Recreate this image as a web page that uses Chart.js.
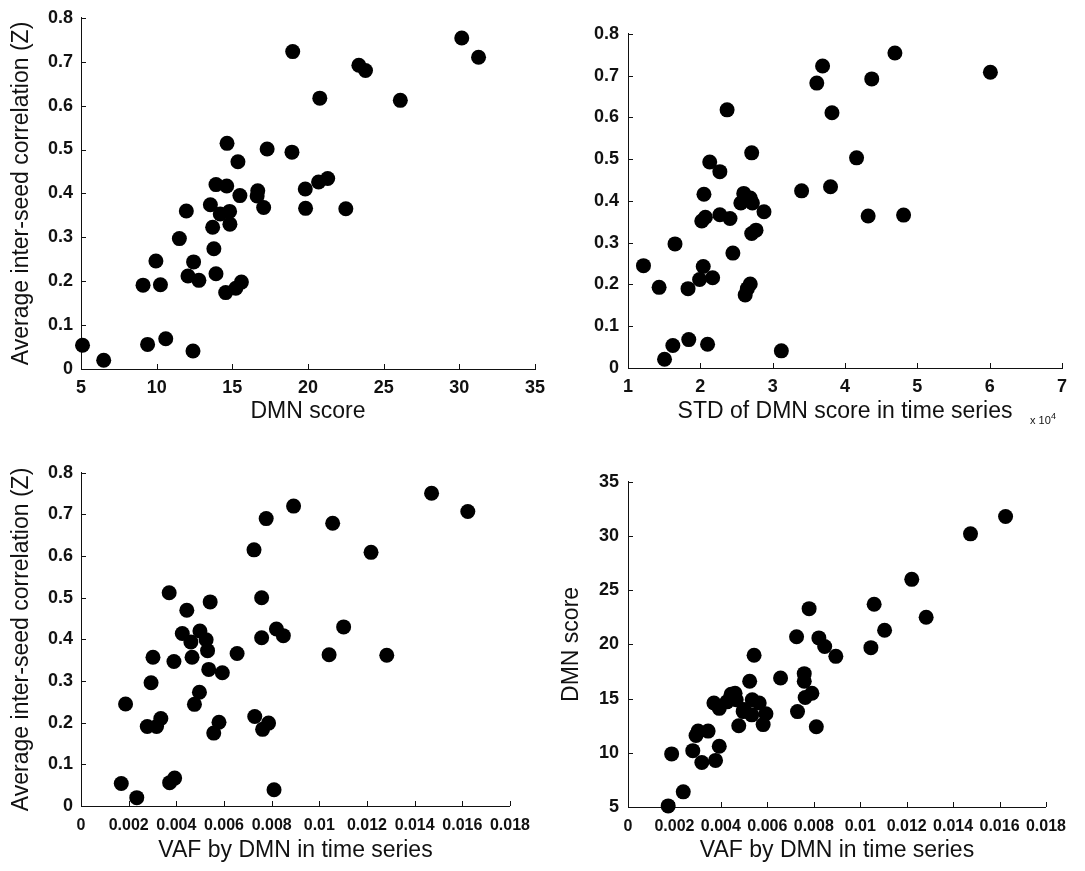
<!DOCTYPE html>
<html>
<head>
<meta charset="utf-8">
<script src="https://cdn.jsdelivr.net/npm/chart.js@4/dist/chart.umd.min.js"></script>
<style>
html, body { margin: 0; padding: 0; background: #fff; overflow: hidden; width: 1085px; height: 871px; }
.panel { position: absolute; }
</style>
</head>
<body>
<div class="panel" id="w1"><canvas id="c1"></canvas></div>
<div class="panel" id="w2"><canvas id="c2"></canvas></div>
<div class="panel" id="w3"><canvas id="c3"></canvas></div>
<div class="panel" id="w4"><canvas id="c4"></canvas></div>
<script>
// ---------- tick values / labels ----------
const corrTickValues = [0, 0.1, 0.2, 0.3, 0.4, 0.5, 0.6, 0.7, 0.8];
const corrTickLabels = ['0', '0.1', '0.2', '0.3', '0.4', '0.5', '0.6', '0.7', '0.8'];
const dmnTickValues = [5, 10, 15, 20, 25, 30, 35];
const dmnTickLabels = ['5', '10', '15', '20', '25', '30', '35'];
const stdTickValues = [1, 2, 3, 4, 5, 6, 7];
const stdTickLabels = ['1', '2', '3', '4', '5', '6', '7'];
const vafTickValues = [0, 0.002, 0.004, 0.006, 0.008, 0.01, 0.012, 0.014, 0.016, 0.018];
const vafTickLabels = ['0', '0.002', '0.004', '0.006', '0.008', '0.01', '0.012', '0.014', '0.016', '0.018'];
const stdScaleBase = 'x 10';
const stdScaleExp = '4';

// ---------- axis titles ----------
const corrTitle = 'Average inter-seed correlation (Z)';
const dmnTitle = 'DMN score';
const stdTitle = 'STD of DMN score in time series';
const vafTitle = 'VAF by DMN in time series';

// ---------- panel 1: DMN score vs correlation ----------
const p1DmnScore = [5.1, 6.5, 9.4, 10.6, 12.4, 9.1, 10.25, 9.95, 11.5, 11.96, 12.07, 12.44, 12.79, 13.55, 13.7, 13.78, 13.92, 13.92, 14.2, 14.56, 14.63, 14.65, 14.82, 14.84, 15.23, 15.6, 15.37, 15.5, 16.68, 16.64, 17.07, 17.3, 18.94, 18.99, 19.82, 19.84, 20.7, 21.3, 20.78, 22.5, 23.36, 23.8, 26.1, 30.16, 31.27];
const p1CorrZ = [0.054, 0.020, 0.056, 0.069, 0.041, 0.191, 0.192, 0.246, 0.297, 0.360, 0.212, 0.244, 0.202, 0.374, 0.323, 0.274, 0.217, 0.420, 0.353, 0.174, 0.417, 0.514, 0.359, 0.330, 0.184, 0.198, 0.472, 0.395, 0.406, 0.394, 0.368, 0.501, 0.494, 0.723, 0.410, 0.366, 0.426, 0.434, 0.617, 0.365, 0.692, 0.680, 0.612, 0.754, 0.710];

// ---------- panel 2: STD of DMN score (x 10^4) vs correlation ----------
const p2StdDmn = [1.214, 1.43, 1.505, 1.62, 1.65, 1.83, 1.84, 1.99, 2.04, 2.17, 2.10, 2.05, 2.02, 2.07, 2.13, 2.27, 2.27, 2.41, 2.37, 2.45, 2.56, 2.60, 2.62, 2.65, 2.69, 2.69, 2.70, 2.71, 2.71, 2.77, 2.88, 3.12, 3.40, 3.61, 3.69, 3.80, 3.82, 4.16, 4.32, 4.37, 4.69, 4.81, 6.01, 2.63, 2.72];
const p2CorrZ = [0.245, 0.193, 0.021, 0.054, 0.297, 0.190, 0.068, 0.212, 0.243, 0.216, 0.057, 0.416, 0.352, 0.361, 0.493, 0.470, 0.367, 0.358, 0.618, 0.275, 0.395, 0.418, 0.175, 0.190, 0.201, 0.407, 0.399, 0.515, 0.322, 0.330, 0.374, 0.041, 0.424, 0.682, 0.723, 0.434, 0.611, 0.503, 0.364, 0.692, 0.754, 0.366, 0.708, 0.405, 0.395];

// ---------- panel 3: VAF vs correlation ----------
const p3Vaf = [0.00169, 0.00234, 0.00372, 0.00393, 0.0081, 0.00187, 0.00278, 0.00317, 0.00335, 0.00294, 0.00302, 0.0039, 0.0037, 0.00425, 0.00444, 0.00461, 0.00466, 0.00476, 0.00497, 0.00499, 0.00525, 0.00531, 0.00536, 0.00542, 0.00557, 0.00579, 0.00593, 0.00655, 0.00726, 0.00729, 0.00758, 0.00758, 0.00762, 0.00787, 0.00777, 0.0082, 0.00849, 0.00892, 0.01056, 0.01041, 0.01102, 0.01217, 0.01283, 0.01471, 0.01623];
const p3CorrZ = [0.054, 0.020, 0.056, 0.067, 0.039, 0.245, 0.191, 0.191, 0.210, 0.296, 0.357, 0.347, 0.512, 0.414, 0.470, 0.394, 0.357, 0.244, 0.273, 0.420, 0.399, 0.373, 0.328, 0.490, 0.175, 0.201, 0.320, 0.366, 0.615, 0.215, 0.500, 0.404, 0.184, 0.199, 0.690, 0.425, 0.409, 0.720, 0.679, 0.363, 0.430, 0.609, 0.362, 0.751, 0.707];

// ---------- panel 4: VAF vs DMN score ----------
const p4Vaf = [0.00173, 0.00238, 0.00377, 0.00393, 0.00811, 0.00318, 0.00279, 0.00188, 0.00293, 0.00302, 0.00345, 0.00477, 0.00582, 0.00533, 0.00594, 0.00496, 0.0073, 0.00499, 0.00393, 0.00565, 0.00426, 0.0037, 0.00466, 0.00535, 0.00763, 0.00792, 0.00444, 0.00461, 0.00759, 0.00524, 0.00657, 0.00759, 0.00543, 0.00895, 0.00847, 0.01046, 0.00822, 0.01105, 0.00726, 0.01284, 0.0078, 0.0106, 0.01222, 0.01475, 0.01626];
const p4DmnScore = [5.1, 6.4, 9.3, 10.6, 12.4, 9.1, 10.2, 9.9, 11.6, 12.0, 12.0, 12.5, 12.6, 13.5, 13.6, 13.8, 13.8, 14.0, 14.1, 14.6, 14.7, 14.6, 14.9, 14.9, 15.1, 15.5, 15.4, 15.5, 16.6, 16.6, 16.9, 17.3, 19.0, 18.9, 19.8, 19.7, 20.6, 21.3, 20.7, 22.5, 23.3, 23.7, 26.0, 30.2, 31.8];

// ---------- rendering ----------
const FONT = "'Liberation Sans', Arial, Helvetica, sans-serif";
const INK = '#111';
Chart.defaults.font.family = FONT;
Chart.defaults.color = INK;

const YW = 80, PT = 15, XH = 75;

const inwardTicks = {
  id: 'inwardTicks',
  beforeDatasetsDraw(chart) {
    const { ctx, chartArea, scales } = chart;
    const x = scales.x, y = scales.y;
    ctx.save();
    ctx.strokeStyle = INK;
    ctx.lineWidth = 1;
    ctx.beginPath();
    x.ticks.forEach(t => {
      const px = Math.round(x.getPixelForValue(t.value)) + 0.5;
      ctx.moveTo(px, chartArea.bottom);
      ctx.lineTo(px, chartArea.bottom - 5);
    });
    y.ticks.forEach(t => {
      const py = Math.round(y.getPixelForValue(t.value)) + 0.5;
      ctx.moveTo(chartArea.left, py);
      ctx.lineTo(chartArea.left + 5, py);
    });
    ctx.stroke();
    ctx.restore();
  }
};

const exponentNote = {
  id: 'exponentNote',
  afterDraw(chart, args, opts) {
    if (!opts || !opts.show) return;
    const { ctx, chartArea } = chart;
    ctx.save();
    ctx.fillStyle = INK;
    ctx.textBaseline = 'alphabetic';
    ctx.textAlign = 'left';
    ctx.font = '11px ' + FONT;
    ctx.fillText(stdScaleBase, chartArea.right - 32, chartArea.bottom + 56);
    ctx.font = '9px ' + FONT;
    ctx.fillText(stdScaleExp, chartArea.right - 11, chartArea.bottom + 51);
    ctx.restore();
  }
};

function makeAxis(tickValues, tickLabels, opts) {
  return {
    type: 'linear',
    min: tickValues[0],
    max: tickValues[tickValues.length - 1],
    afterBuildTicks: s => { s.ticks = tickValues.map(v => ({ value: v })); },
    afterFit: s => { if (opts.horizontal) s.height = XH; else s.width = YW; },
    grid: { display: false, drawTicks: false },
    border: { display: true, color: INK, width: 1 },
    ticks: {
      autoSkip: false, maxRotation: 0, minRotation: 0,
      padding: opts.tickPad,
      color: INK,
      font: { size: opts.tickSize, weight: 'bold', family: FONT },
      callback: (v, i) => tickLabels[i]
    },
    title: opts.title ? {
      display: true, text: opts.title, color: INK,
      font: { size: 23, family: FONT, lineHeight: 1.2 },
      padding: opts.titlePad
    } : { display: false }
  };
}

function makePanel(n, rect, xs, ys, xAxis, yAxis, pr, showExp) {
  const w = (rect.R - rect.L) + YW + pr;
  const h = (rect.B - rect.T) + PT + XH;
  const wrap = document.getElementById('w' + n);
  wrap.style.left = (rect.L - YW) + 'px';
  wrap.style.top = (rect.T - PT) + 'px';
  wrap.style.width = w + 'px';
  wrap.style.height = h + 'px';
  const cv = document.getElementById('c' + n);
  cv.width = w; cv.height = h;
  cv.style.width = w + 'px'; cv.style.height = h + 'px';
  const pts = xs.map((x, i) => ({ x: x, y: ys[i] }));
  return new Chart(cv, {
    type: 'scatter',
    data: {
      datasets: [{
        data: pts,
        pointRadius: 7.5,
        pointHoverRadius: 7.5,
        pointBackgroundColor: '#000',
        pointBorderColor: '#000',
        pointBorderWidth: 0,
        clip: false
      }]
    },
    options: {
      responsive: false,
      animation: false,
      events: [],
      layout: { padding: { top: PT, right: pr, left: 0, bottom: 0 } },
      plugins: { legend: { display: false }, tooltip: { enabled: false }, exponentNote: { show: showExp } },
      scales: { x: xAxis, y: yAxis }
    },
    plugins: [inwardTicks, exponentNote]
  });
}

// title paddings derived from target title centres
function xTitlePad(rect, cy) { return { top: 0, bottom: rect.B + XH - cy - 13.8 }; }
function yTitlePad(rect, cx) { return { top: cx - (rect.L - YW) - 13.8, bottom: 0 }; }

const r1 = { L: 81, T: 14, R: 535, B: 369 };
const r2 = { L: 628, T: 29, R: 1062, B: 368 };
const r3 = { L: 81, T: 469, R: 515, B: 806 };
const r4 = { L: 628, T: 477, R: 1051, B: 807 };

makePanel(1, r1, p1DmnScore, p1CorrZ,
  makeAxis(dmnTickValues, dmnTickLabels, { horizontal: true, tickPad: 8, tickSize: 18, title: dmnTitle, titlePad: xTitlePad(r1, 412) }),
  makeAxis(corrTickValues, corrTickLabels, { horizontal: false, tickPad: 8, tickSize: 18, title: corrTitle, titlePad: yTitlePad(r1, 22) }),
  25, false);

makePanel(2, r2, p2StdDmn, p2CorrZ,
  makeAxis(stdTickValues, stdTickLabels, { horizontal: true, tickPad: 8, tickSize: 18, title: stdTitle, titlePad: xTitlePad(r2, 412) }),
  makeAxis(corrTickValues, corrTickLabels, { horizontal: false, tickPad: 9, tickSize: 18, title: null }),
  20, true);

makePanel(3, r3, p3Vaf, p3CorrZ,
  makeAxis(vafTickValues, vafTickLabels, { horizontal: true, tickPad: 10, tickSize: 16, title: vafTitle, titlePad: xTitlePad(r3, 851) }),
  makeAxis(corrTickValues, corrTickLabels, { horizontal: false, tickPad: 8, tickSize: 18, title: corrTitle, titlePad: yTitlePad(r3, 22) }),
  25, false);

makePanel(4, r4, p4Vaf, p4DmnScore,
  makeAxis(vafTickValues, vafTickLabels, { horizontal: true, tickPad: 10, tickSize: 16, title: vafTitle, titlePad: xTitlePad(r4, 851) }),
  makeAxis(dmnTickValues, dmnTickLabels, { horizontal: false, tickPad: 9, tickSize: 18, title: dmnTitle, titlePad: yTitlePad(r4, 572) }),
  25, false);
</script>
</body>
</html>
